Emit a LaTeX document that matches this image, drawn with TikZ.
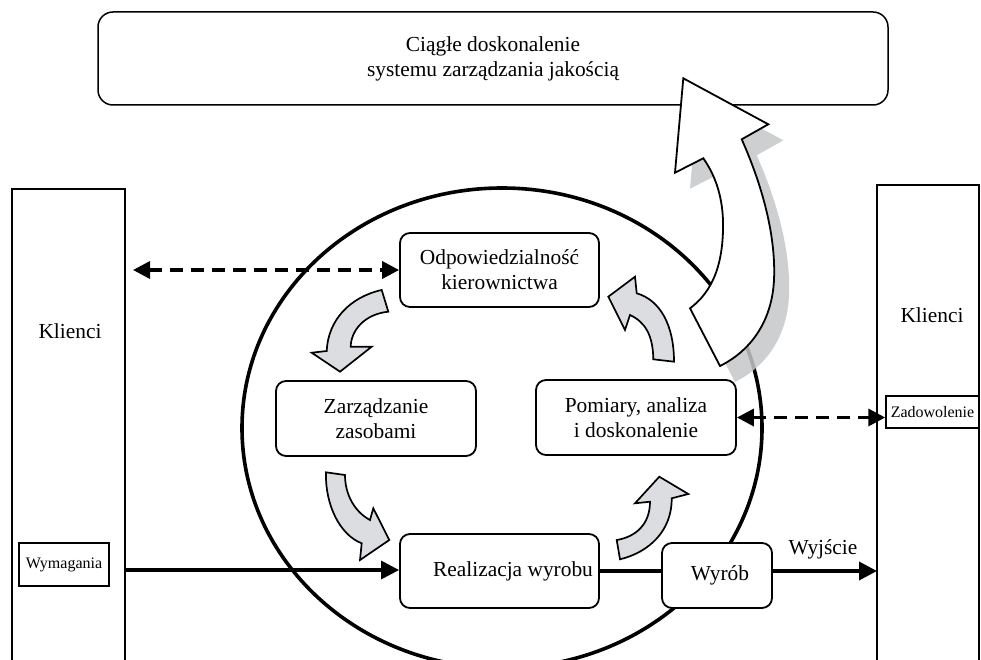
\documentclass[tikz,border=0pt]{standalone}
\usepackage{fontspec}
\setmainfont{Liberation Serif}
\usetikzlibrary{arrows.meta,calc}
\definecolor{smallgray}{RGB}{220,221,224}
\definecolor{shadowgray}{RGB}{198,199,201}
\begin{document}
\begin{tikzpicture}[x=1pt,y=-1pt,
  txt/.style={font=\fontsize{21.4}{25}\selectfont, align=center, inner sep=0pt},
  smalltxt/.style={font=\fontsize{16}{19}\selectfont, inner sep=0pt},
  procbox/.style={txt, draw, line width=1.8pt, rounded corners=10pt, fill=white},
  tagbox/.style={smalltxt, draw, line width=1.5pt, fill=white},
  bar/.style={line width=1.4pt},
  dasharrow/.style={line width=3.4pt, dash pattern=on 13pt off 8pt, {Triangle[length=17pt,width=17pt]}-{Triangle[length=17pt,width=17pt]}},
  solidarrow/.style={line width=3.2pt, -{Triangle[length=18pt,width=18pt]}},
  cyclearrow/.style={draw, line width=1.7pt, fill=smallgray, line join=miter}
]
\useasboundingbox (0,0) rectangle (981,660);

% customer bars
\draw[bar] (12,662) -- (12,189) -- (125,189) -- (125,662);
\draw[bar] (877,662) -- (877,185) -- (979,185) -- (979,662);
\node[txt] (kl) at (70,331) {Klienci};
\node[txt] (kr) at (932,315) {Klienci};

% process ellipse
\draw[line width=3.6pt] (502,428) ellipse [x radius=260, y radius=240];

% shadow of the big arrow
\def\bigarrowpath{(683.3,78.3) -- (768.3,124.3) -- (741.7,139.3) .. controls (762,185) and (776,235) .. (774,280) .. controls (772,320) and (752,350) .. (720,366) -- (690,308.3) .. controls (712,292) and (724,265) .. (723,220) .. controls (722,195) and (715,175) .. (703.3,158.3) -- (675,172.7) -- cycle}
\fill[shadowgray, fill opacity=0.85, shift={(15,16)}] \bigarrowpath;

% process boxes
\node[procbox, minimum width=199pt, minimum height=74pt] (odp) at (499.5,270) {Odpowiedzialność\\kierownictwa};
\node[procbox, minimum width=200pt, minimum height=75pt] (zarz) at (376,418.5) {Zarządzanie\\zasobami};
\node[procbox, minimum width=200pt, minimum height=75pt] (pom) at (636,417.5) {Pomiary, analiza\\i doskonalenie};
\node[procbox, minimum width=199pt, minimum height=74pt] (real) at (499.5,571) {\hspace*{27pt}Realizacja wyrobu};
\node[procbox, minimum width=110pt, minimum height=65pt] (wyrob) at (717,575.5) {\hspace*{6pt}Wyrób};

% tags on the bars
\node[tagbox, minimum width=90pt, minimum height=43pt] (wym) at (64,564.5) {Wymagania};
\node[tagbox, minimum width=93pt, minimum height=32pt] (zad) at (932.5,412) {Zadowolenie};

% connectors
\coordinate (dl) at (133,270);
\coordinate (lb) at (125,570);
\coordinate (rb) at (877,571);
\draw[dasharrow] (dl) -- (odp.west);
\draw[dasharrow] (pom.east) -- (pom.east -| zad.west);
\draw[solidarrow] (lb) -- (lb -| real.west);
\draw[line width=3.6pt] (real.east |- rb) -- (rb -| wyrob.west);
\draw[solidarrow, line width=3.6pt] (rb -| wyrob.east) -- (rb);
\node[txt] (wyj) at (823,549) {Wyjście};

% cycle arrows
\path[cyclearrow] (381.7,290) .. controls (350,297) and (328,320) .. (326.7,351) -- (311.7,352.7) -- (340,371.7) -- (371.7,346.7) -- (350.7,346.7) .. controls (351,330) and (365,314) .. (388.3,311.7) -- cycle;
\path[cyclearrow] (326,472.3) .. controls (325,505) and (340,535) .. (361.7,543.3) -- (360,560) -- (389.3,540) -- (373.3,508.3) -- (370,520) .. controls (355,512) and (345,495) .. (345,475) -- cycle;
\path[cyclearrow] (674,361.7) .. controls (674,325) and (660,300) .. (636.7,293.3) -- (635,276.7) -- (608.3,296.7) -- (625,330) -- (630,315) .. controls (645,322) and (653,335) .. (653.3,359.3) -- cycle;
\path[cyclearrow] (620,559.3) .. controls (650,552) and (672,530) .. (671.7,498.3) -- (688.3,494) -- (659.3,476.7) -- (635,503.3) -- (650,501.7) .. controls (650,525) and (635,537) .. (616.7,540) -- cycle;

% top box
\node[txt, draw, line width=1.5pt, rounded corners=15pt, fill=white, minimum width=790pt, minimum height=93pt] (top) at (493,58.5) {Ciągłe doskonalenie\\systemu zarządzania jakością};

% big improvement arrow
\filldraw[fill=white, draw=black, line width=1.8pt, line join=miter] \bigarrowpath;
\end{tikzpicture}
\end{document}
